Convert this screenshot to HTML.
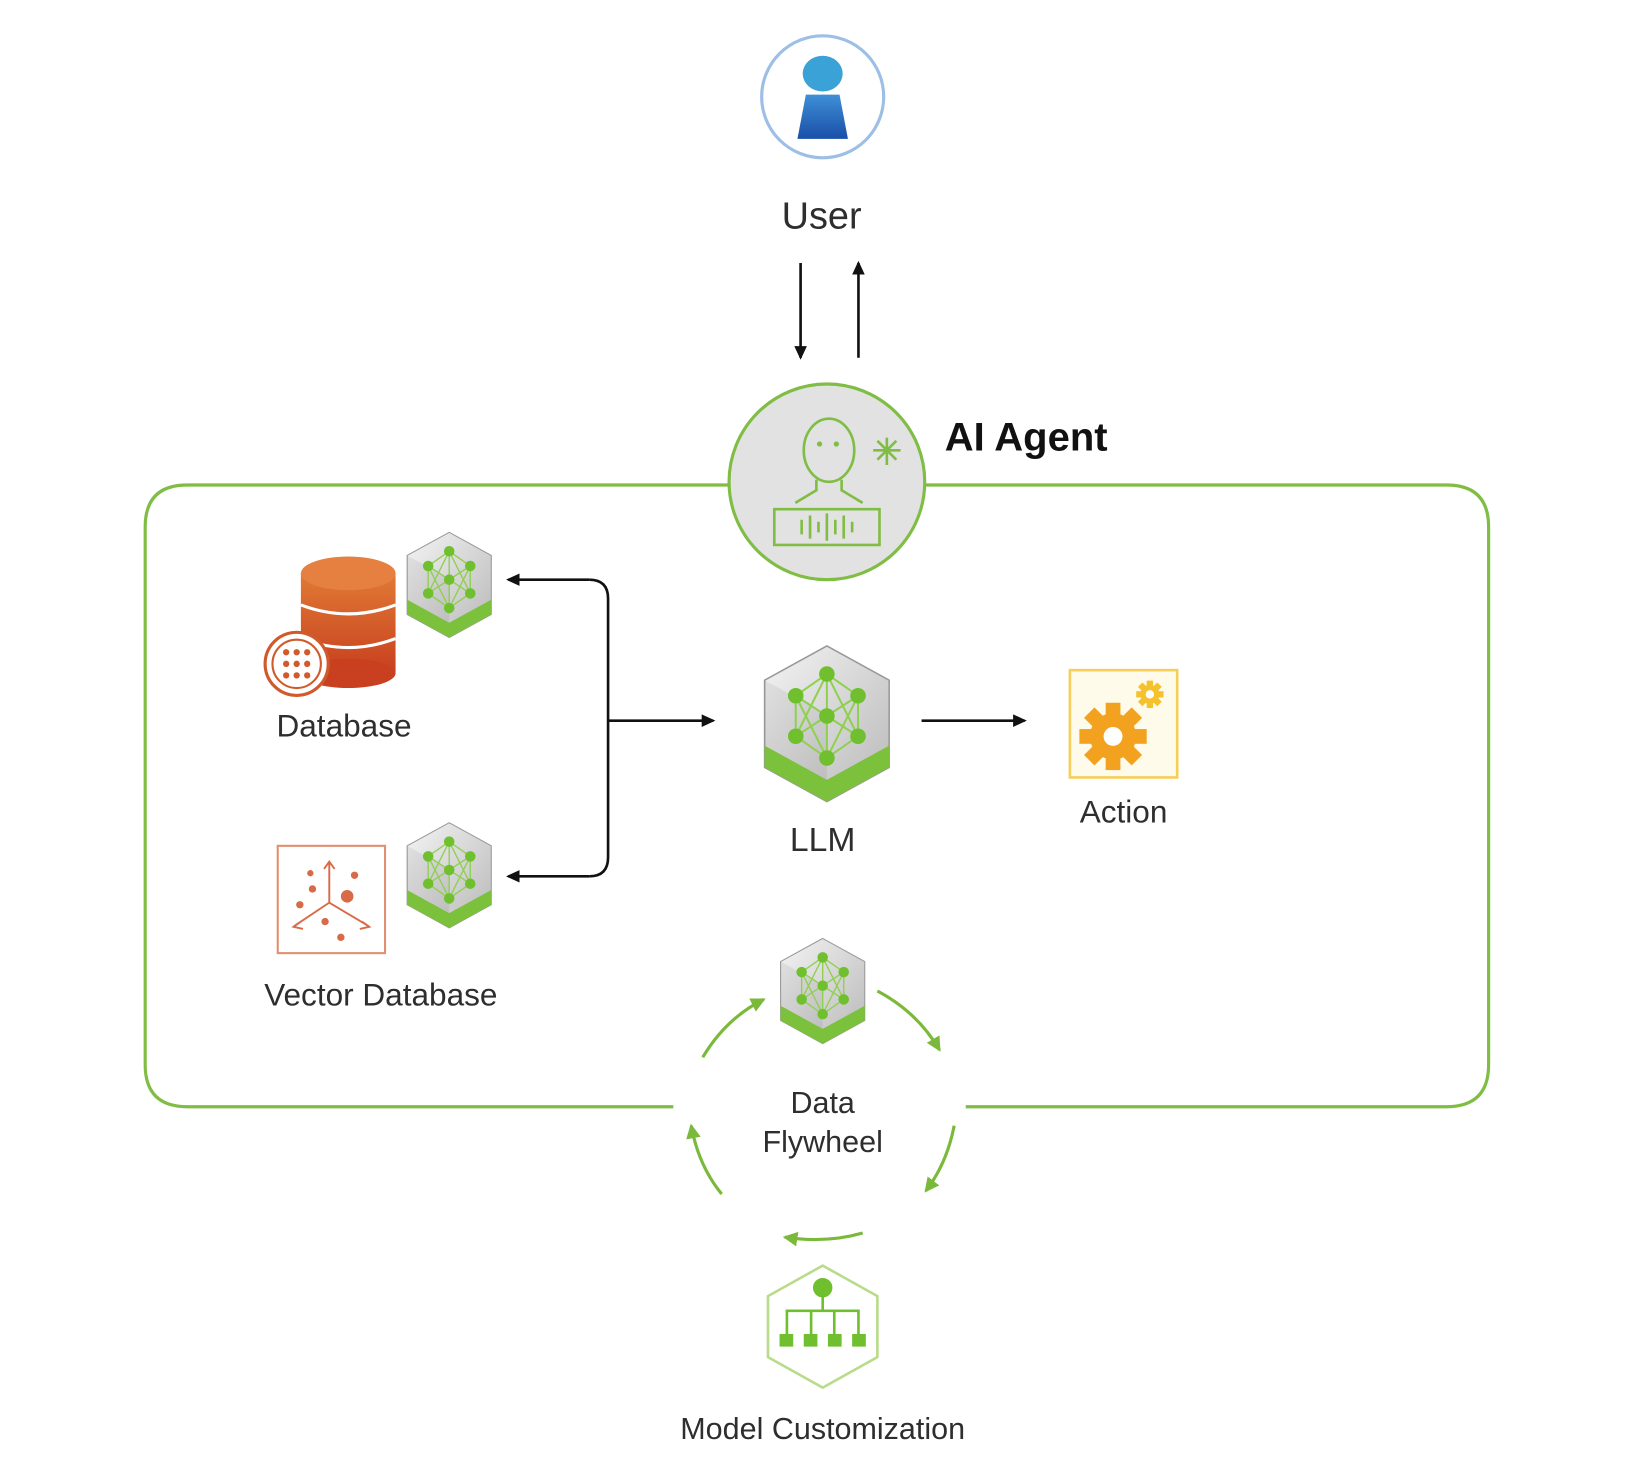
<!DOCTYPE html>
<html><head><meta charset="utf-8"><style>
html,body{margin:0;padding:0;background:#fff;}
svg{display:block;}
text{font-family:"Liberation Sans","DejaVu Sans",sans-serif;fill:#2e2e2e;}
</style></head><body>
<svg width="1648" height="1478" viewBox="0 0 1566.5 1404.9" preserveAspectRatio="none" xmlns="http://www.w3.org/2000/svg">
<defs>
<linearGradient id="gray" x1="0" y1="0" x2="1" y2="1"><stop offset="0" stop-color="#f4f4f4"/><stop offset="1" stop-color="#b8b8b8"/></linearGradient>
<linearGradient id="org" x1="0" y1="0" x2="0" y2="1"><stop offset="0" stop-color="#e07a35"/><stop offset="1" stop-color="#c8401f"/></linearGradient>
<linearGradient id="blue" x1="0" y1="0" x2="0" y2="1"><stop offset="0" stop-color="#3f8fd6"/><stop offset="1" stop-color="#1a4fa8"/></linearGradient>
<marker id="ah" markerWidth="14" markerHeight="14" refX="11" refY="7" orient="auto" markerUnits="userSpaceOnUse"><path d="M0,1 L13,7 L0,13 Z" fill="#111"/></marker>
<marker id="gh" markerWidth="16" markerHeight="16" refX="12" refY="8" orient="auto" markerUnits="userSpaceOnUse"><path d="M0,1 L14,8 L0,15 Z" fill="#7ab93a"/></marker>
<g id="nn">
  <polygon points="0,-50 40,-28 40,28 0,50 -40,28 -40,-28" fill="url(#gray)" stroke="#999" stroke-width="1"/>
  <polygon points="-40,14 0,36 40,14 40,28 0,50 -40,28" fill="#7cc13c"/>
  <polygon points="-40,-28 0,-6 0,36 -40,14" fill="#000" opacity="0.06"/>
  <g stroke="#8fd04f" stroke-width="1.3" fill="none">
    <path d="M0,-32 L-20,-18 L-20,8 L0,22 L20,8 L20,-18 Z M0,-32 L0,22 M-20,-18 L20,8 M20,-18 L-20,8 M0,-32 L-20,8 M0,-32 L20,8 M0,22 L-20,-18 M0,22 L20,-18"/>
  </g>
  <g fill="#6fbf2e">
    <circle cx="0" cy="-32" r="5"/><circle cx="-20" cy="-18" r="5"/><circle cx="20" cy="-18" r="5"/>
    <circle cx="0" cy="-5" r="5"/><circle cx="-20" cy="8" r="5"/><circle cx="20" cy="8" r="5"/><circle cx="0" cy="22" r="5"/>
  </g>
</g>
</defs>

<path d="M692,461 L178,461 Q138,461 138,501 L138,1012 Q138,1052 178,1052 L640,1052" fill="none" stroke="#80bd45" stroke-width="3"/>
<path d="M880,461 L1375,461 Q1415,461 1415,501 L1415,1012 Q1415,1052 1375,1052 L918,1052" fill="none" stroke="#80bd45" stroke-width="3"/>

<circle cx="782" cy="92" r="58" fill="#fff" stroke="#9dbfe6" stroke-width="3"/>
<ellipse cx="782" cy="70" rx="19" ry="17" fill="#3ba2d8"/>
<polygon points="766,90 798,90 806,132 758,132" fill="url(#blue)"/>
<text x="781" y="217" font-size="36" text-anchor="middle">User</text>
<line x1="761" y1="250" x2="761" y2="340" stroke="#111" stroke-width="2.5" marker-end="url(#ah)"/>
<line x1="816" y1="340" x2="816" y2="250" stroke="#111" stroke-width="2.5" marker-end="url(#ah)"/>

<circle cx="786" cy="458" r="93" fill="#e2e2e2" stroke="#80bd45" stroke-width="3"/>
<g fill="none" stroke="#80bd45" stroke-width="2.5">
  <ellipse cx="788" cy="428" rx="24" ry="30"/>
  <path d="M776,456 L776,466 L756,478 M800,456 L800,466 L820,478"/>
  <rect x="736" y="484" width="100" height="34"/>
  <path d="M762,494 v14 M770,490 v22 M778,496 v10 M786,488 v26 M794,494 v14 M802,490 v22 M810,496 v10"/>
  <path d="M830,428 h26 M843,416 v26 M834,419 l18,18 M852,419 l-18,18"/>
</g>
<circle cx="779" cy="422" r="2.5" fill="#80bd45"/><circle cx="795" cy="422" r="2.5" fill="#80bd45"/>
<text x="898" y="428" font-size="38" font-weight="bold" style="fill:#111">AI Agent</text>

<g>
  <rect x="286" y="545" width="90" height="95" fill="url(#org)"/>
  <ellipse cx="331" cy="640" rx="45" ry="14" fill="#c8401f"/>
  <ellipse cx="331" cy="545" rx="45" ry="16" fill="#e58040"/>
  <path d="M286,575 Q331,592 376,575 M286,607 Q331,624 376,607" fill="none" stroke="#fff" stroke-width="3"/>
  <circle cx="282" cy="631" r="30" fill="#fff" stroke="#d05a2c" stroke-width="3"/>
  <circle cx="282" cy="631" r="23" fill="none" stroke="#d05a2c" stroke-width="2"/>
  <g fill="#d05a2c"><circle cx="272" cy="620" r="3"/><circle cx="282" cy="620" r="3"/><circle cx="292" cy="620" r="3"/><circle cx="272" cy="631" r="3"/><circle cx="282" cy="631" r="3"/><circle cx="292" cy="631" r="3"/><circle cx="272" cy="642" r="3"/><circle cx="282" cy="642" r="3"/><circle cx="292" cy="642" r="3"/></g>
</g>
<use href="#nn" x="427" y="556"/>
<text x="327" y="700" font-size="30" text-anchor="middle">Database</text>

<rect x="264" y="804" width="102" height="102" fill="#fff" stroke="#e09070" stroke-width="2"/>
<g stroke="#d86a48" stroke-width="1.8" fill="none"><path d="M313,858 L313,820 M308,826 L313,819 L318,826 M313,858 L280,880 M313,858 L350,880 M344,876 L351,881 L342,883 M286,876 L279,881 L288,883"/></g>
<g fill="#d86a48"><circle cx="330" cy="852" r="6"/><circle cx="297" cy="845" r="3.5"/><circle cx="337" cy="832" r="3.5"/><circle cx="285" cy="860" r="3.5"/><circle cx="309" cy="876" r="3.5"/><circle cx="324" cy="891" r="3.5"/><circle cx="295" cy="830" r="3"/></g>
<use href="#nn" x="427" y="832"/>
<text x="362" y="956" font-size="30" text-anchor="middle">Vector Database</text>

<path d="M560,551 Q578,551 578,569 L578,815 Q578,833 560,833" fill="none" stroke="#111" stroke-width="2.5"/>
<line x1="560" y1="551" x2="483" y2="551" stroke="#111" stroke-width="2.5" marker-end="url(#ah)"/>
<line x1="560" y1="833" x2="483" y2="833" stroke="#111" stroke-width="2.5" marker-end="url(#ah)"/>
<line x1="578" y1="685" x2="678" y2="685" stroke="#111" stroke-width="2.5" marker-end="url(#ah)"/>

<g transform="translate(786,688) scale(1.48)"><use href="#nn"/></g>
<text x="782" y="809" font-size="32" text-anchor="middle">LLM</text>
<line x1="876" y1="685" x2="974" y2="685" stroke="#111" stroke-width="2.5" marker-end="url(#ah)"/>

<rect x="1017" y="637" width="102" height="102" fill="#fffbea" stroke="#f5cf5a" stroke-width="2.5"/>
<g transform="translate(1058,700)">
  <circle r="22" fill="#f2a21f"/>
  <g fill="#f2a21f"><rect x="-7" y="-32" width="14" height="64"/><rect x="-32" y="-7" width="64" height="14"/><rect x="-7" y="-32" width="14" height="64" transform="rotate(45)"/><rect x="-7" y="-32" width="14" height="64" transform="rotate(-45)"/></g>
  <circle r="9" fill="#fff"/>
</g>
<g transform="translate(1093,660)">
  <circle r="9" fill="#f5c22c"/>
  <g fill="#f5c22c"><rect x="-3" y="-13" width="6" height="26"/><rect x="-13" y="-3" width="26" height="6"/><rect x="-3" y="-13" width="6" height="26" transform="rotate(45)"/><rect x="-3" y="-13" width="6" height="26" transform="rotate(-45)"/></g>
  <circle r="4" fill="#fff"/>
</g>
<text x="1068" y="782" font-size="30" text-anchor="middle">Action</text>

<use href="#nn" x="782" y="942"/>
<text x="782" y="1058" font-size="29" text-anchor="middle">Data</text>
<text x="782" y="1095" font-size="29" text-anchor="middle">Flywheel</text>
<g fill="none" stroke="#7ab93a" stroke-width="3">
  <path d="M668,1005 Q690,968 726,950" marker-end="url(#gh)"/>
  <path d="M834,942 Q872,962 893,998" marker-end="url(#gh)"/>
  <path d="M907,1070 Q900,1106 880,1132" marker-end="url(#gh)"/>
  <path d="M820,1172 Q785,1182 746,1176" marker-end="url(#gh)"/>
  <path d="M686,1135 Q664,1108 657,1070" marker-end="url(#gh)"/>
</g>

<polygon points="782,1203 834,1232 834,1290 782,1319 730,1290 730,1232" fill="#fff" stroke="#b9dc8c" stroke-width="2.5"/>
<g fill="#6fbf2e" stroke="#6fbf2e" stroke-width="2.5">
  <circle cx="782" cy="1224" r="8"/>
  <path d="M782,1232 V1246 M748,1270 V1246 H816 V1270 M771,1246 V1270 M793,1246 V1270" fill="none"/>
  <rect x="741" y="1268" width="13" height="12" stroke="none"/><rect x="764" y="1268" width="13" height="12" stroke="none"/><rect x="787" y="1268" width="13" height="12" stroke="none"/><rect x="810" y="1268" width="13" height="12" stroke="none"/>
</g>
<text x="782" y="1368" font-size="29" text-anchor="middle">Model Customization</text>
</svg>
</body></html>
